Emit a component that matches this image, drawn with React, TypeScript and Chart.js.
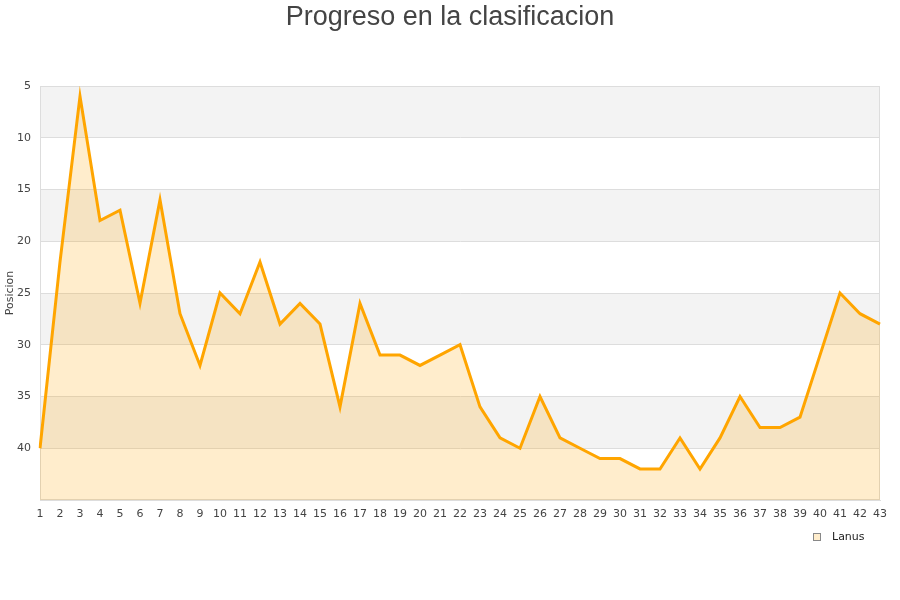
import React, { useEffect, useRef } from "react";
import { Chart, registerables } from "chart.js";

Chart.register(...registerables);

const TITLE = "Progreso en la clasificacion";
const SERIES_NAME = "Lanus";
const Y_TITLE = "Posicion";
const jornadas = Array.from({ length: 43 }, (_, i) => String(i + 1));
const posiciones = [
  40, 22, 6, 18, 17, 26, 16, 27, 32, 25,
  27, 22, 28, 26, 28, 36, 26, 31, 31, 32,
  31, 30, 36, 39, 40, 35, 39, 40, 41, 41,
  42, 42, 39, 42, 39, 35, 38, 38, 37, 31,
  25, 27, 28,
];
const Y_MIN = 5;
const Y_MAX = 45;
const Y_STEP = 5;

const LINE_COLOR = "#FFA500";
const FILL_COLOR = "rgba(255,165,0,0.2)";
const BAND_COLOR = "#f3f3f3";
const GRID_COLOR = "#dddddd";
const TEXT_COLOR = "#444444";
const FONT = "'DejaVu Sans', Verdana, sans-serif";

const bandsPlugin = {
  id: "bands",
  beforeDraw(chart: any) {
    const { ctx, chartArea } = chart;
    const y = chart.scales.y;
    ctx.save();
    ctx.fillStyle = "#ffffff";
    ctx.fillRect(chartArea.left, chartArea.top, chartArea.right - chartArea.left, chartArea.bottom - chartArea.top);
    ctx.fillStyle = BAND_COLOR;
    for (let v = Y_MIN; v < Y_MAX; v += Y_STEP * 2) {
      const p1 = y.getPixelForValue(v);
      const p2 = y.getPixelForValue(v + Y_STEP);
      ctx.fillRect(chartArea.left, Math.min(p1, p2), chartArea.right - chartArea.left, Math.abs(p2 - p1));
    }
    ctx.restore();
  },
  beforeDatasetsDraw(chart: any) {
    const { ctx, chartArea } = chart;
    ctx.save();
    ctx.strokeStyle = GRID_COLOR;
    ctx.lineWidth = 1;
    ctx.strokeRect(
      Math.round(chartArea.left) + 0.5,
      Math.round(chartArea.top) + 0.5,
      Math.round(chartArea.right - chartArea.left) - 1,
      Math.round(chartArea.bottom - chartArea.top) - 1
    );
    ctx.restore();
  },
  afterDraw(chart: any) {
    const { ctx } = chart;
    const ds = chart.data.datasets[0];
    ctx.save();
    ctx.fillStyle = "#ffffff";
    ctx.fillRect(813, 533, 8, 8);
    ctx.fillStyle = ds.backgroundColor;
    ctx.fillRect(813, 533, 8, 8);
    ctx.strokeStyle = "#888888";
    ctx.lineWidth = 1;
    ctx.strokeRect(813.5, 533.5, 7, 7);
    ctx.fillStyle = "#222222";
    ctx.font = `11px ${FONT}`;
    ctx.textBaseline = "middle";
    ctx.textAlign = "left";
    ctx.fillText(ds.label, 832, 537);
    ctx.restore();
  },
};

export default function App() {
  const ref = useRef<HTMLCanvasElement>(null);
  useEffect(() => {
    if (!ref.current) return;
    const chart = new Chart(ref.current, {
      type: "line",
      data: {
        labels: jornadas,
        datasets: [
          {
            label: SERIES_NAME,
            data: posiciones,
            borderColor: LINE_COLOR,
            backgroundColor: FILL_COLOR,
            borderWidth: 3,
            pointRadius: 0,
            pointHoverRadius: 0,
            tension: 0,
            fill: { value: Y_MAX },
          },
        ],
      },
      options: {
        responsive: false,
        animation: false,
        layout: { padding: { left: 0, right: 0, top: 0, bottom: 76 } },
        plugins: {
          legend: { display: false },
          tooltip: { enabled: false },
          title: {
            display: true,
            text: TITLE,
            color: TEXT_COLOR,
            font: { family: "'Liberation Sans', Arial, sans-serif", size: 27, weight: "normal" },
            padding: { top: 1.1, bottom: 52.5 },
          },
        },
        scales: {
          x: {
            grid: { display: false, drawTicks: false },
            border: { display: true, color: GRID_COLOR },
            ticks: {
              color: TEXT_COLOR,
              font: { family: FONT, size: 11 },
              autoSkip: false,
              maxRotation: 0,
              padding: 8,
            },
            afterFit: (s: any) => {
              s.height = 24;
            },
          },
          y: {
            reverse: true,
            min: Y_MIN,
            max: Y_MAX,
            grid: { color: GRID_COLOR, drawTicks: false },
            border: { display: true, color: GRID_COLOR },
            ticks: {
              stepSize: Y_STEP,
              color: TEXT_COLOR,
              font: { family: FONT, size: 11 },
              padding: 9,
              callback: (v: any) => (v === Y_MAX ? "" : String(v)),
            },
            title: {
              display: true,
              text: Y_TITLE,
              color: TEXT_COLOR,
              font: { family: FONT, size: 11 },
              padding: { top: 4, bottom: 0 },
            },
            afterFit: (s: any) => {
              s.width = 40;
            },
          },
          yRight: {
            position: "right",
            display: true,
            grid: { display: false, drawTicks: false },
            border: { display: false },
            ticks: { display: false },
            afterFit: (s: any) => {
              s.width = 20;
            },
          },
        },
      },
      plugins: [bandsPlugin],
    });
    return () => chart.destroy();
  }, []);
  return (
    <div style={{ position: "fixed", left: 0, top: 0, width: 900, height: 600, background: "#fff" }}>
      <canvas ref={ref} width={900} height={600} style={{ display: "block" }} />
    </div>
  );
}
